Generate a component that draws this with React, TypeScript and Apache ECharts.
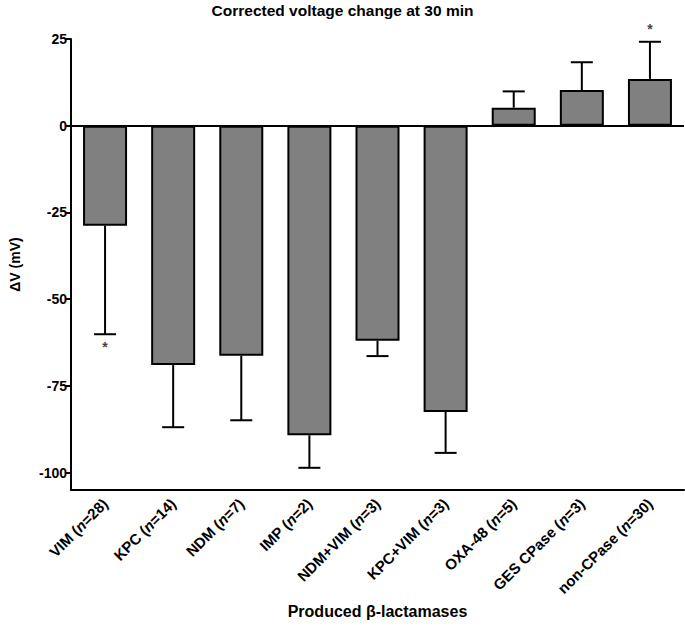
import React, { useEffect, useRef } from "react";
import * as echarts from "echarts";

const categories = ["VIM", "KPC", "NDM", "IMP", "NDM+VIM", "KPC+VIM", "OXA-48", "GES CPase", "non-CPase"];
const sampleSizes = [28, 14, 7, 2, 3, 3, 5, 3, 30];
const meanValues = [-28.8, -69.0, -66.3, -89.2, -62.0, -82.5, 5.2, 10.3, 13.5];
const errorEnds = [-60.1, -86.9, -84.9, -98.6, -66.4, -94.3, 9.9, 18.3, 24.2];
const sigCategories = [0, 8];
const sigValues = [-63.7, 27.8];
const yTicks = [-100, -75, -50, -25, 0, 25];

const FONT = "Liberation Sans, Arial, sans-serif";

export default function App() {
  const ref = useRef<HTMLDivElement>(null);
  useEffect(() => {
    if (!ref.current) return;
    const chart = echarts.init(ref.current, null, { renderer: "svg" });
    const option: any = {
      animation: false,
      backgroundColor: "#fff",
      textStyle: { fontFamily: FONT },
      title: {
        text: "Corrected voltage change at 30 min",
        left: "center",
        top: -3,
        textStyle: { fontFamily: FONT, fontSize: 15.5, fontWeight: "bold", color: "#000" },
      },
      grid: { left: 61, right: 1, top: 39, bottom: 140, containLabel: false },
      xAxis: {
        type: "category",
        data: categories.map((c, i) => `${c}|${sampleSizes[i]}`),
        axisLine: { onZero: false, lineStyle: { color: "#000", width: 2 } },
        axisTick: { alignWithLabel: true, length: 5, lineStyle: { color: "#000", width: 2 } },
        axisLabel: {
          rotate: 45,
          margin: 11,
          interval: 0,
          formatter: (v: string) => {
            const [name, n] = v.split("|");
            return `{a|${name} (}{i|n}{a|=${n})}`;
          },
          rich: {
            a: { fontFamily: FONT, fontSize: 15, fontWeight: "bold", color: "#000" },
            i: { fontFamily: FONT, fontSize: 15, fontWeight: "bold", fontStyle: "italic", color: "#000" },
          },
        },
        name: "Produced β-lactamases",
        nameLocation: "middle",
        nameGap: 106,
        nameTextStyle: { fontFamily: FONT, fontSize: 16, fontWeight: "bold", color: "#000", verticalAlign: "top" },
      },
      yAxis: {
        type: "value",
        min: -105,
        max: 25,
        splitLine: { show: false },
        axisLine: { show: true, lineStyle: { color: "#000", width: 2 } },
        axisTick: { show: true, length: 5, customValues: yTicks, lineStyle: { color: "#000", width: 2 } },
        axisLabel: {
          customValues: yTicks,
          margin: 4,
          fontFamily: FONT,
          fontSize: 14,
          fontWeight: "bold",
          color: "#000",
        },
        name: "ΔV (mV)",
        nameLocation: "middle",
        nameRotate: 90,
        nameGap: 49,
        nameTextStyle: { fontFamily: FONT, fontSize: 14, fontWeight: "bold", color: "#000" },
      },
      series: [
        {
          type: "bar",
          data: meanValues,
          barWidth: 44,
          itemStyle: { color: "#808080", borderColor: "#000", borderWidth: 2 },
          markLine: {
            silent: true,
            symbol: "none",
            label: { show: false },
            lineStyle: { color: "#000", width: 2, type: "solid" },
            data: [{ yAxis: 0 }],
          },
          z: 2,
        },
        {
          type: "custom",
          data: categories.map((_, i) => [i, meanValues[i], errorEnds[i]]),
          renderItem: (params: any, api: any) => {
            const x = api.value(0);
            const p0 = api.coord([x, api.value(1)]);
            const p1 = api.coord([x, api.value(2)]);
            const half = 11;
            return {
              type: "group",
              children: [
                { type: "line", shape: { x1: p0[0], y1: p0[1], x2: p1[0], y2: p1[1] }, style: { stroke: "#000", lineWidth: 2 } },
                { type: "line", shape: { x1: p1[0] - half, y1: p1[1], x2: p1[0] + half, y2: p1[1] }, style: { stroke: "#000", lineWidth: 2 } },
              ],
            };
          },
          z: 3,
        },
        {
          type: "custom",
          clip: false,
          data: sigCategories.map((c, i) => [c, sigValues[i]]),
          renderItem: (params: any, api: any) => {
            const p = api.coord([api.value(0), api.value(1)]);
            return {
              type: "text",
              x: p[0],
              y: p[1],
              style: { text: "*", fontFamily: FONT, fontSize: 14, fontWeight: "bold", fill: "#444", align: "center", verticalAlign: "middle" },
            };
          },
          z: 4,
        },
      ],
    };
    chart.setOption(option);
    return () => chart.dispose();
  }, []);
  return <div ref={ref} style={{ position: "fixed", left: 0, top: 0, width: 685, height: 630 }} />;
}
